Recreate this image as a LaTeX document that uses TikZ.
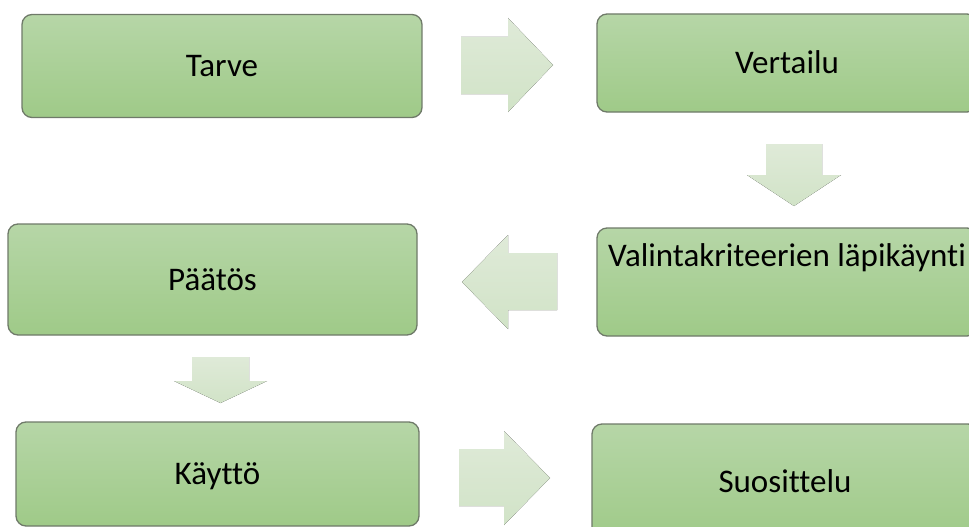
\documentclass[tikz,border=0pt]{standalone}
\usepackage{fontspec}
\setmainfont{Carlito}[RawFeature={-liga;-clig;-calt;-dlig}]
\usetikzlibrary{positioning}

\definecolor{boxtop}{HTML}{B6D6A7}
\definecolor{boxbot}{HTML}{9FCA88}
\definecolor{boxline}{HTML}{6F7A69}
\definecolor{arrtop}{HTML}{DFEAD8}
\definecolor{arrbot}{HTML}{D1E3C7}

\tikzset{
  stepbox/.style={draw=boxline, line width=1.3pt, rounded corners=10pt,
    top color=boxtop, bottom color=boxbot, inner sep=0pt,
    font=\fontsize{33}{38}\selectfont, text height=21pt, text depth=0pt},
  raised/.style={text depth=#1},
  blockarrow/.style={top color=arrtop, bottom color=arrbot},
}

\begin{document}
\begin{tikzpicture}[x=1pt,y=-1pt]
         \useasboundingbox (0,0) rectangle (969,527);
         \clip (0,0) rectangle (969,527);

         \node[stepbox, minimum width=400pt, minimum height=103pt] (tarve) at (222,66) {Tarve};
         \node[stepbox, minimum width=380pt, minimum height=98pt] (vertailu) at (787,63) {Vertailu};
         \node[stepbox, minimum width=380pt, minimum height=108pt, raised=53pt] (valinta) at (787,282) {Valintakriteerien läpikäynti};
         \node[stepbox, minimum width=409pt, minimum height=111pt] (paatos) at (212.5,279.5) {Päätös};
         \node[stepbox, minimum width=403pt, minimum height=104pt] (kaytto) at (217.5,474) {Käyttö};
         \node[stepbox, minimum width=386pt, minimum height=116pt] (suosittelu) at (785,482) {Suosittelu};

         % block arrows between the boxes
         \fill[blockarrow] (461,37) -- (508,37) -- (508,18) -- (553,65) -- (508,112) -- (508,94) -- (461,94) -- cycle;
         \fill[blockarrow] (766,144) -- (822,144) -- (822,175) -- (841,175) -- (794,206) -- (747,175) -- (766,175) -- cycle;
         \fill[blockarrow] (557,253) -- (508,253) -- (508,235) -- (462,282) -- (508,329) -- (508,310) -- (557,310) -- cycle;
         \fill[blockarrow] (192,357) -- (249,357) -- (249,381) -- (267,381) -- (220.5,403) -- (174,381) -- (192,381) -- cycle;
         \fill[blockarrow] (459,449) -- (504,449) -- (504,431) -- (550,478) -- (504,525) -- (504,506) -- (459,506) -- cycle;
      \end{tikzpicture}
\end{document}
